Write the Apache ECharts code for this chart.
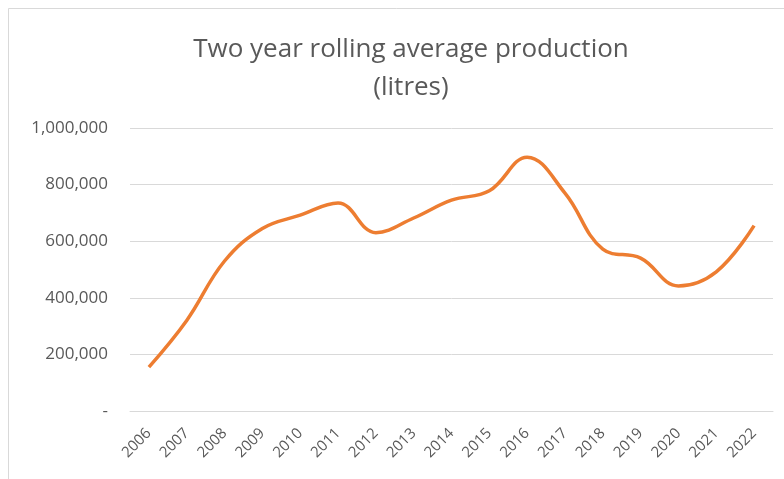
<!DOCTYPE html>
<html>
<head>
<meta charset="utf-8">
<script src="https://cdn.jsdelivr.net/npm/echarts@6/dist/echarts.min.js"></script>
<style>
html,body{margin:0;padding:0;background:#fff;}
#chart{width:784px;height:479px;}
</style>
</head>
<body>
<div id="chart"></div>
<script>
const years = ['2006','2007','2008','2009','2010','2011','2012','2013','2014','2015','2016','2017','2018','2019','2020','2021','2022'];
const production = [155000, 320000, 530000, 645000, 692000, 735000, 630000, 682000, 745000, 778000, 897000, 770000, 572000, 540000, 442000, 492000, 655000];
const yTicks = [0, 200000, 400000, 600000, 800000, 1000000];

const chart = echarts.init(document.getElementById('chart'));
const font = 'Open Sans';
chart.setOption({
  backgroundColor: '#fff',
  animation: false,
  title: {
    text: 'Two year rolling average production\n(litres)',
    left: 406,
    textAlign: 'center',
    top: 26,
    textStyle: {
      fontFamily: font,
      fontSize: 26,
      fontWeight: 'normal',
      color: '#595959',
      lineHeight: 38
    }
  },
  graphic: [{
    type: 'rect',
    shape: {x: 8.5, y: 8.5, width: 800, height: 480},
    style: {fill: 'none', stroke: '#d9d9d9', lineWidth: 1},
    silent: true
  }],
  grid: {left: 130, right: 11, top: 128, bottom: 68},
  xAxis: {
    type: 'category',
    data: years,
    boundaryGap: true,
    axisLine: {lineStyle: {color: '#d9d9d9'}},
    axisTick: {show: false},
    axisLabel: {
      rotate: 45,
      color: '#595959',
      fontFamily: font,
      fontSize: 15,
      margin: 20
    }
  },
  yAxis: {
    type: 'value',
    min: yTicks[0],
    max: yTicks[yTicks.length - 1],
    interval: 200000,
    axisLine: {show: false},
    axisTick: {show: false},
    splitLine: {lineStyle: {color: '#d9d9d9'}},
    axisLabel: {
      color: '#595959',
      fontFamily: font,
      fontSize: 17,
      margin: 22,
      formatter: function (v) { return v === 0 ? '-' : v.toLocaleString('en-US'); }
    }
  },
  series: [{
    type: 'line',
    data: production,
    smooth: 0.4,
    showSymbol: false,
    lineStyle: {color: '#ED7D31', width: 3.5},
    itemStyle: {color: '#ED7D31'}
  }]
});
</script>
</body>
</html>
